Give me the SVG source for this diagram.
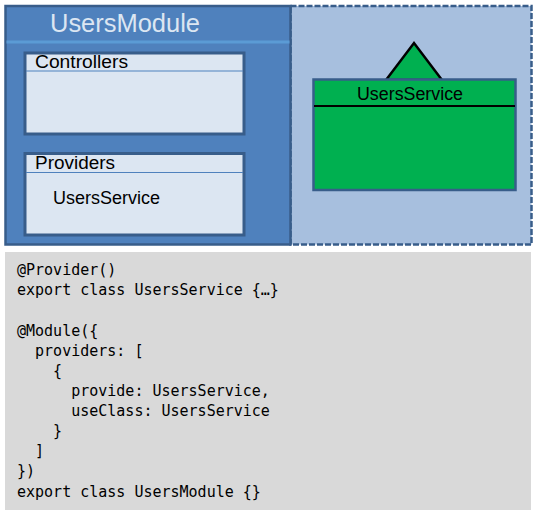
<svg xmlns="http://www.w3.org/2000/svg" width="538" height="515" viewBox="0 0 538 515">
<style>
.lbl{font-family:"Liberation Sans",Arial,sans-serif;font-size:18px;fill:#000}
.code{font-family:"DejaVu Sans Mono","Liberation Mono",monospace;font-size:15px;fill:#000;white-space:pre}
.inner{fill:#dce6f2;stroke:#385d8a;stroke-width:3}
.hline{stroke:#4f81bd;stroke-width:1.2}
</style>
<rect width="538" height="515" fill="#ffffff"/>
<g id="scope">
<rect x="290.5" y="6" width="241" height="238.5" fill="#a7bfde" stroke="#385d8a" stroke-width="2.5" stroke-dasharray="6 2"/>
</g>
<g id="users-module">
<rect x="5.5" y="6" width="285" height="238.5" fill="#4f81bd" stroke="#385d8a" stroke-width="2.5"/>
<line x1="6.5" y1="42" x2="289.5" y2="42" stroke="#5b9bd5" stroke-width="3"/>
<text x="50" y="32" font-family="Liberation Sans,Arial,sans-serif" font-size="25" fill="#dce6f2" textLength="150" lengthAdjust="spacingAndGlyphs">UsersModule</text>
</g>
<g id="controllers">
<rect class="inner" x="25" y="53" width="219" height="81"/>
<line class="hline" x1="26" y1="71" x2="243" y2="71"/>
<text class="lbl" x="35" y="68" textLength="93" lengthAdjust="spacingAndGlyphs">Controllers</text>
</g>
<g id="providers">
<rect class="inner" x="25" y="153.5" width="219" height="81.5"/>
<line class="hline" x1="26" y1="172.5" x2="243" y2="172.5"/>
<text class="lbl" x="35" y="169" textLength="80" lengthAdjust="spacingAndGlyphs">Providers</text>
<text class="lbl" x="53" y="204" textLength="107" lengthAdjust="spacingAndGlyphs">UsersService</text>
</g>
<g id="users-service">
<polygon points="386,80 414,43 442,80" fill="#00b050" stroke="#000" stroke-width="2.5" stroke-linejoin="miter"/>
<rect x="313.5" y="79.5" width="202" height="110.5" fill="#00b050" stroke="#385d8a" stroke-width="2.5"/>
<line x1="314" y1="106" x2="515" y2="106" stroke="#000" stroke-width="2"/>
<text class="lbl" x="410" y="100" text-anchor="middle" textLength="106" lengthAdjust="spacingAndGlyphs">UsersService</text>
</g>
<g id="code">
<rect x="5" y="252" width="526" height="258" fill="#d9d9d9"/>
<text class="code" x="17" y="275">@Provider()</text>
<text class="code" x="17" y="295">export class UsersService {…}</text>
<text class="code" x="17" y="336">@Module({</text>
<text class="code" x="17" y="356">  providers: [</text>
<text class="code" x="17" y="376">    {</text>
<text class="code" x="17" y="396">      provide: UsersService,</text>
<text class="code" x="17" y="416">      useClass: UsersService</text>
<text class="code" x="17" y="436">    }</text>
<text class="code" x="17" y="456">  ]</text>
<text class="code" x="17" y="476">})</text>
<text class="code" x="17" y="497">export class UsersModule {}</text>
</g>
</svg>
